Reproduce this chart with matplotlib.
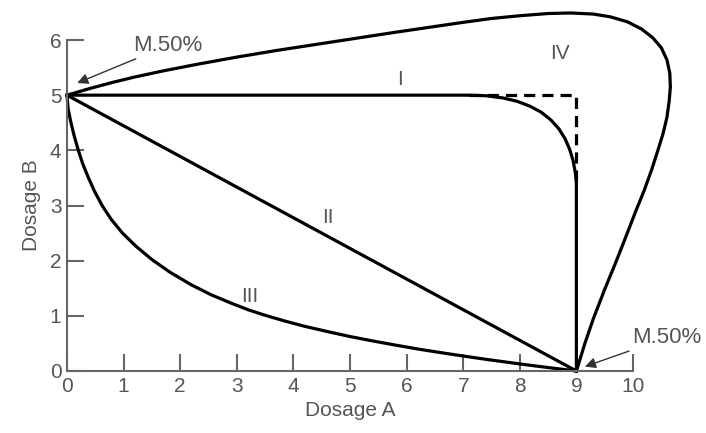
import matplotlib.pyplot as plt

plt.rcParams["font.family"] = ["Liberation Sans", "DejaVu Sans"]

# curve I: flat at 5, rounded corner, then straight down at 9
curve1_x = [0, 7.1, 7.4, 7.7, 7.95, 8.18, 8.38, 8.55, 8.69, 8.8, 8.88,
            8.94, 8.98, 9.0, 9.0]
curve1_y = [5, 5, 4.99, 4.95, 4.89, 4.8, 4.69, 4.55, 4.39, 4.21, 4.02,
            3.82, 3.6, 3.4, 0]

# dashed square corner
dash_x = [7.1, 9.0, 9.0]
dash_y = [5, 5, 3.4]

# line II
line2_x = [0, 9]
line2_y = [5, 0]

# curve III
curve3_x = [0, 0.02, 0.07, 0.13, 0.2, 0.28, 0.38, 0.49, 0.62, 0.78, 0.98,
            1.22, 1.5, 1.82, 2.2, 2.55, 2.9, 3.2, 3.5, 3.85, 4.2, 4.6, 5.0,
            5.4, 5.8, 6.25, 6.7, 7.05, 7.4, 7.75, 8.1, 8.35, 8.6, 8.8, 9.0]
curve3_y = [5, 4.75, 4.5, 4.25, 4.0, 3.75, 3.5, 3.25, 3.0, 2.75, 2.5,
            2.26, 2.02, 1.79, 1.56, 1.38, 1.23, 1.11, 1.01, 0.905, 0.81, 0.715,
            0.625, 0.545, 0.47, 0.39, 0.318, 0.264, 0.212, 0.163, 0.115, 0.082,
            0.05, 0.025, 0]

# curve IV
curve4_x = [0, 0.4, 0.8, 1.2, 1.7, 2.3, 3.0, 3.7, 4.4, 5.1, 5.8, 6.4, 7.0,
            7.5, 8.0, 8.5, 8.9, 9.3, 9.6, 9.9, 10.15, 10.35, 10.5, 10.6,
            10.65, 10.66, 10.64, 10.6, 10.53, 10.44, 10.33, 10.2, 10.05,
            9.88, 9.7, 9.5, 9.3, 9.15, 9.0]
curve4_y = [5, 5.12, 5.23, 5.33, 5.44, 5.56, 5.69, 5.81, 5.92, 6.03, 6.14,
            6.23, 6.32, 6.39, 6.44, 6.48, 6.49, 6.47, 6.42, 6.33, 6.2, 6.04,
            5.86, 5.64, 5.4, 5.15, 4.9, 4.6, 4.3, 4.0, 3.65, 3.28, 2.9,
            2.45, 1.98, 1.48, 0.95, 0.5, 0]

labels = ["I", "II", "III", "IV"]
label_x = [5.88, 4.61, 3.23, 8.71]
label_y = [5.29, 2.79, 1.35, 5.76]

x_ticks = list(range(0, 11))
y_ticks = list(range(0, 7))

axis_grey = "#666666"
text_grey = "#555555"

fig = plt.figure(figsize=(7.06, 4.33), dpi=100)
ax = fig.add_axes([67 / 706, 62 / 433, 566 / 706, 331 / 433])

lw = 2.3
ax.plot(curve1_x, curve1_y, color="black", lw=lw, clip_on=False,
        solid_joinstyle="round")
ax.plot(dash_x, dash_y, color="black", lw=lw, ls=(0, (3.5, 2.2)), clip_on=False)
ax.plot(line2_x, line2_y, color="black", lw=lw, clip_on=False)
ax.plot(curve3_x, curve3_y, color="black", lw=lw, clip_on=False,
        solid_joinstyle="round")
ax.plot(curve4_x, curve4_y, color="black", lw=lw, clip_on=False,
        solid_joinstyle="round")

for lab, lx, ly in zip(labels, label_x, label_y):
    ax.text(lx, ly, lab, fontsize=15, color=text_grey, ha="center", va="center")

arrow = dict(arrowstyle="-|>", color="#333333", lw=1.0, mutation_scale=16,
             shrinkA=0, shrinkB=0)
ax.annotate("M.50%", xy=(0.18, 5.22), xytext=(1.17, 5.9), fontsize=16,
            color=text_grey, va="center", ha="left", arrowprops=arrow,
            annotation_clip=False)
ax.annotate("M.50%", xy=(9.15, 0.08), xytext=(9.98, 0.6), fontsize=16,
            color=text_grey, va="center", ha="left", arrowprops=arrow,
            annotation_clip=False)

ax.set_xlim(0, 10)
ax.set_ylim(0, 6)
ax.set_xticks(x_ticks)
ax.set_yticks(y_ticks)
ax.tick_params(direction="in", length=12, width=1.5, color=axis_grey,
               labelcolor=text_grey, labelsize=15, pad=4)
for side in ["top", "right"]:
    ax.spines[side].set_visible(False)
for side in ["left", "bottom"]:
    ax.spines[side].set_color(axis_grey)
    ax.spines[side].set_linewidth(1.5)

ax.set_xlabel("Dosage A", fontsize=15, color=text_grey, labelpad=4)
ax.set_ylabel("Dosage B", fontsize=15, color=text_grey, labelpad=6)

fig.savefig("out.png", dpi=100)
